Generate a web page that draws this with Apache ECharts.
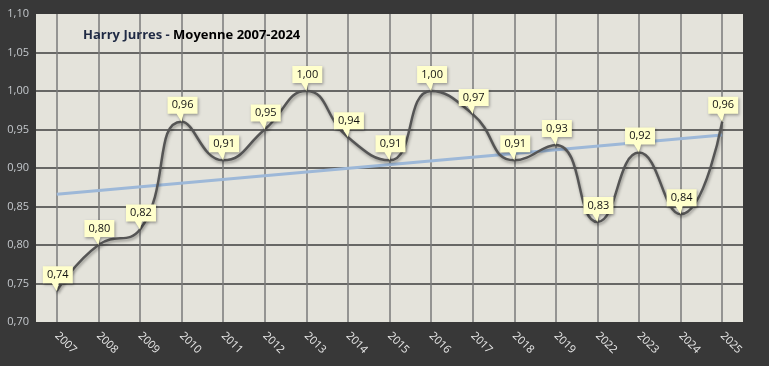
<!DOCTYPE html>
<html><head><meta charset="utf-8">
<script src="https://cdn.jsdelivr.net/npm/echarts@6/dist/echarts.min.js"></script>
<style>html,body{margin:0;padding:0;background:#383838;}#c{width:769px;height:366px;}</style>
</head><body><div id="c"></div>
<script>
const categories = ['2007','2008','2009','2010','2011','2012','2013','2014','2015','2016','2017','2018','2019','2022','2023','2024','2025'];
const values = [0.74,0.80,0.82,0.96,0.91,0.95,1.00,0.94,0.91,1.00,0.97,0.91,0.93,0.83,0.92,0.84,0.96];
const trendStart = 0.866, trendEnd = 0.943;
const trend = categories.map((c,i)=> i===0 ? trendStart : (i===categories.length-1 ? trendEnd : null));
const yTicks = {min:0.70, max:1.10, interval:0.05};

const fmt = v => v.toFixed(2).replace('.', ',');
const FONT = '"Open Sans", "Noto Sans", sans-serif';
const chart = echarts.init(document.getElementById('c'));
chart.setOption({
  backgroundColor:'#383838',
  animation:false,
  title:{
    text:'{a|Harry Jurres - }{b|Moyenne 2007-2024}',
    left:78, top:24,
    textStyle:{rich:{
      a:{fontFamily:FONT,fontSize:13,color:'#1f2a44'},
      b:{fontFamily:FONT,fontSize:13,fontWeight:'bold',color:'#000'}
    }}
  },
  grid:{left:36,right:26,top:14,bottom:44,show:true,backgroundColor:'#e4e3db',borderWidth:0},
  xAxis:{
    type:'category', data:categories, boundaryGap:true,
    axisLine:{show:false}, axisTick:{show:false},
    axisLabel:{rotate:-45, color:'#e8e8e8', fontFamily:FONT, fontSize:11, margin:12},
    splitLine:{show:true, alignWithLabel:true, lineStyle:{color:'#7a7a7a', width:1.5}}
  },
  yAxis:{
    type:'value', min:yTicks.min, max:yTicks.max, interval:yTicks.interval,
    axisLine:{show:false}, axisTick:{show:false},
    axisLabel:{formatter:v=>fmt(v), color:'#c4c8cc', fontFamily:FONT, fontSize:11, margin:7},
    splitLine:{show:true, showMinLine:false, showMaxLine:false, lineStyle:{color:'#3e3e3e', width:1.5}}
  },
  series:[
    {
      type:'line', data:trend, connectNulls:true, symbol:'none',
      lineStyle:{color:'#9db8d8', width:3}, z:2
    },
    {
      type:'line', data:values, smooth:0.5, symbol:'none',
      lineStyle:{color:'#555555', width:2.5, shadowColor:'rgba(0,0,0,0.35)', shadowBlur:3, shadowOffsetX:1, shadowOffsetY:2}, z:3
    },
    {
      type:'scatter', data:values, z:5,
      symbol:'path://M0,0 L30,0 L30,17 L16,17 L14,25 L9,17 L0,17 Z',
      symbolSize:[30,25], symbolOffset:[1,-12.5],
      itemStyle:{color:'#ffffcc', opacity:1, shadowColor:'rgba(0,0,0,0.35)', shadowBlur:3, shadowOffsetX:1, shadowOffsetY:1.5},
      label:{show:true, position:'inside', offset:[0,-4], formatter:p=>fmt(p.value), color:'#111', fontFamily:FONT, fontSize:11},
      emphasis:{disabled:true}
    }
  ]
});
</script></body></html>
